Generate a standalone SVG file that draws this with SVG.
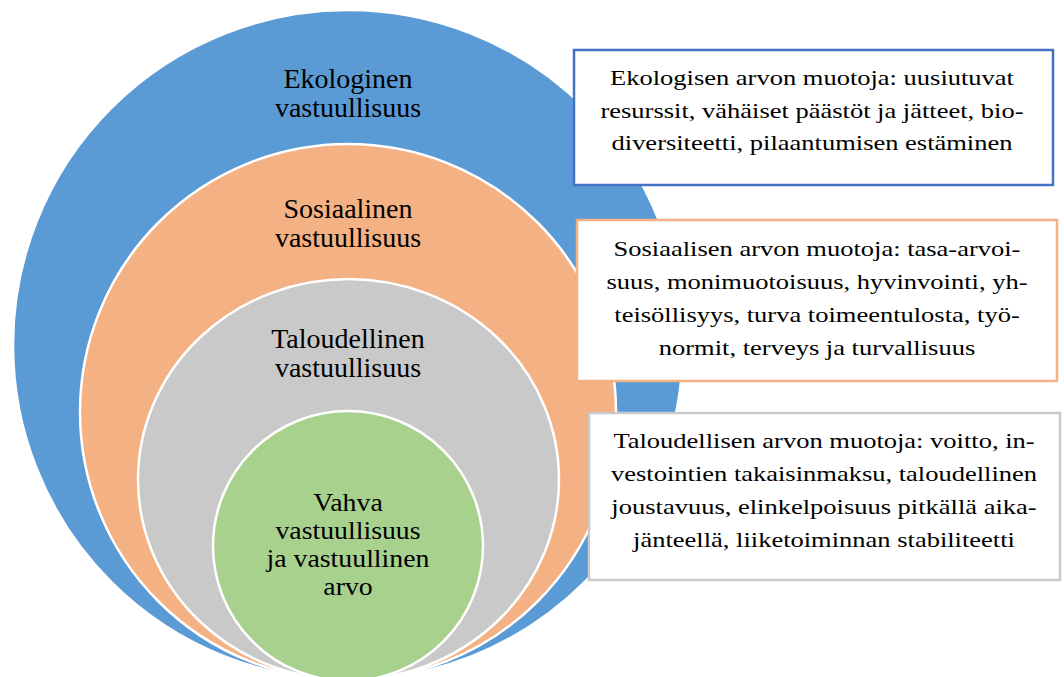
<svg xmlns="http://www.w3.org/2000/svg" width="1064" height="677" viewBox="0 0 1064 677">
<style>
.ring{stroke:#FFFFFF;stroke-width:2.5}
.lbl{font-family:"Liberation Serif","Times New Roman",serif;font-size:28px;fill:#000;text-anchor:middle}
.lbs{font-family:"Liberation Serif","Times New Roman",serif;font-size:26px;fill:#000;text-anchor:middle}
.box{fill:#FFFFFF;stroke-width:2.5}
.bt{font-family:"Liberation Serif","Times New Roman",serif;font-size:22px;fill:#000;text-anchor:middle}
</style>
<rect width="1064" height="677" fill="#FFFFFF"/>
<g id="ekologinen">
<circle class="ring" cx="348" cy="345" r="335" fill="#5B9BD5"/>
<text class="lbl" x="348" y="87.5">Ekologinen</text>
<text class="lbl" x="348" y="116.5">vastuullisuus</text>
</g>
<g id="sosiaalinen">
<circle class="ring" cx="348" cy="412" r="268" fill="#F4B183"/>
<text class="lbl" x="348" y="218">Sosiaalinen</text>
<text class="lbl" x="348" y="247">vastuullisuus</text>
</g>
<g id="taloudellinen">
<ellipse class="ring" cx="348.5" cy="479.5" rx="210.5" ry="200.5" fill="#C9C9C9"/>
<text class="lbl" x="348" y="347.5">Taloudellinen</text>
<text class="lbl" x="348" y="377">vastuullisuus</text>
</g>
<g id="vahva">
<circle class="ring" cx="348" cy="546" r="135" fill="#A9D18E"/>
<g transform="translate(348,0) scale(1.07,1)">
<text class="lbs" x="0" y="511">Vahva</text>
<text class="lbs" x="0" y="539">vastuullisuus</text>
<text class="lbs" x="0" y="567">ja vastuullinen</text>
<text class="lbs" x="0" y="595">arvo</text>
</g>
</g>
<g id="connectors"></g>
<g id="box-ekologinen">
<rect class="box" x="574" y="50" width="479" height="135" stroke="#4472C4"/>
<g transform="translate(812,0) scale(1.205,1)">
<text class="bt" x="0" y="85.5">Ekologisen arvon muotoja: uusiutuvat</text>
<text class="bt" x="0" y="118">resurssit, vähäiset päästöt ja jätteet, bio-</text>
<text class="bt" x="0" y="150.5">diversiteetti, pilaantumisen estäminen</text>
</g>
</g>
<g id="box-sosiaalinen">
<rect class="box" x="577" y="220" width="480" height="161" stroke="#F4B183"/>
<g transform="translate(817,0) scale(1.205,1)">
<text class="bt" x="0" y="256">Sosiaalisen arvon muotoja: tasa-arvoi-</text>
<text class="bt" x="0" y="289">suus, monimuotoisuus, hyvinvointi, yh-</text>
<text class="bt" x="0" y="322">teisöllisyys, turva toimeentulosta, työ-</text>
<text class="bt" x="0" y="355">normit, terveys ja turvallisuus</text>
</g>
</g>
<g id="box-taloudellinen">
<rect class="box" x="589" y="413" width="471" height="167" stroke="#C9C9C9"/>
<g transform="translate(824,0) scale(1.205,1)">
<text class="bt" x="0" y="448">Taloudellisen arvon muotoja: voitto, in-</text>
<text class="bt" x="0" y="481">vestointien takaisinmaksu, taloudellinen</text>
<text class="bt" x="0" y="514">joustavuus, elinkelpoisuus pitkällä aika-</text>
<text class="bt" x="0" y="547">jänteellä, liiketoiminnan stabiliteetti</text>
</g>
</g>
</svg>
